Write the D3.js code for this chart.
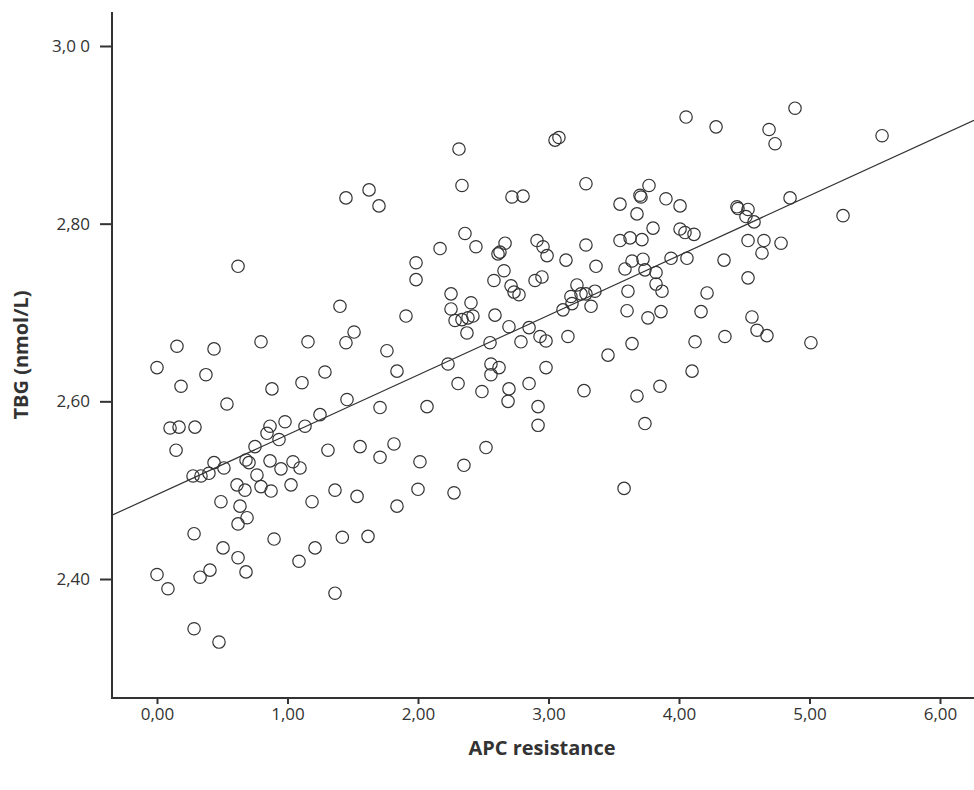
<!DOCTYPE html>
<html>
<head>
<meta charset="utf-8">
<script src="https://cdn.jsdelivr.net/npm/d3@7/dist/d3.min.js"></script>
<style>
  html, body { margin: 0; padding: 0; background: #fff; }
  svg { display: block; }
  text { font-family: "Open Sans", "Noto Sans", sans-serif; }
</style>
</head>
<body>
<svg id="chart" width="974" height="790"></svg>
<script>
// APC resistance (x) against TBG (y), one entry per subject
const apc = [
  0.621, 1.448, 1.625, 1.701, 2.314, 2.337, 2.720, 2.805, 2.360, 2.444,
  2.169, 2.667, 2.628, 2.613, 1.985, 1.985, 2.659, 2.582, 2.912, 2.958,
  2.897, 2.950, 2.713, 3.050, 3.080, 4.054, 4.284, 3.287, 3.770, 3.701,
  3.709, 3.900, 4.008, 3.548, 3.678, 4.444, 4.452, 3.801, 4.008, 4.046,
  4.115, 3.548, 3.625, 3.716, 2.989, 3.287, 3.134, 3.364, 3.640, 3.724,
  3.586, 3.739, 3.939, 4.061, 4.345, 3.824, 3.824, 3.218, 4.889, 4.690,
  4.736, 5.556, 4.851, 4.529, 4.513, 4.575, 5.257, 4.529, 4.651, 4.782,
  4.636, 4.529, 1.402, 0.153, 0.437, 0.797, 1.157, 1.448, 0.000, 0.375,
  0.184, 0.881, 1.111, 1.287, 1.456, 0.536, 1.249, 0.981, 0.866, 1.134,
  0.100, 0.169, 0.291, 0.843, 0.935, 0.146, 1.310, 0.751, 0.682, 0.705,
  0.866, 1.042, 1.096, 0.950, 0.437, 0.513, 0.398, 0.276, 0.337, 0.766,
  0.613, 0.674, 0.797, 0.874, 1.027, 1.364, 0.490, 0.636, 1.188, 0.690,
  0.621, 0.284, 0.897, 1.420, 0.506, 1.211, 0.621, 1.088, 0.000, 0.406,
  0.330, 0.682, 0.084, 1.364, 0.284, 0.475, 2.736, 2.774, 2.253, 2.406,
  2.253, 2.284, 2.337, 2.383, 2.421, 2.375, 2.590, 2.697, 2.851, 2.789,
  2.935, 2.981, 1.510, 1.762, 2.552, 1.908, 1.839, 2.230, 2.559, 2.621,
  2.559, 2.981, 2.307, 2.490, 2.697, 2.690, 2.851, 1.709, 2.069, 2.920,
  2.920, 1.556, 1.709, 1.816, 2.015, 2.352, 2.521, 3.172, 3.180, 3.249,
  3.287, 3.356, 3.326, 3.111, 3.609, 3.870, 4.215, 3.602, 3.762, 3.862,
  4.169, 3.149, 3.640, 4.123, 4.352, 3.456, 4.100, 3.272, 3.678, 3.854,
  3.739, 4.559, 4.598, 4.674, 5.011, 1.533, 1.839, 2.000, 2.276,
  1.617, 3.579
];
const tbg = [
  2.752, 2.829, 2.838, 2.820, 2.884, 2.843, 2.830, 2.831, 2.789, 2.774,
  2.772, 2.778, 2.768, 2.766, 2.756, 2.737, 2.747, 2.736, 2.781, 2.774,
  2.736, 2.740, 2.730, 2.894, 2.897, 2.920, 2.909, 2.845, 2.843, 2.832,
  2.830, 2.828, 2.820, 2.822, 2.811, 2.819, 2.817, 2.795, 2.794, 2.790,
  2.788, 2.781, 2.784, 2.782, 2.764, 2.776, 2.759, 2.752, 2.758, 2.760,
  2.749, 2.748, 2.761, 2.761, 2.759, 2.745, 2.732, 2.731, 2.930, 2.906,
  2.890, 2.899, 2.829, 2.816, 2.808, 2.802, 2.809, 2.781, 2.781, 2.778,
  2.767, 2.739, 2.707, 2.662, 2.659, 2.667, 2.667, 2.666, 2.638, 2.630,
  2.617, 2.614, 2.621, 2.633, 2.602, 2.597, 2.585, 2.577, 2.572, 2.572,
  2.570, 2.571, 2.571, 2.564, 2.557, 2.545, 2.545, 2.549, 2.534, 2.531,
  2.533, 2.532, 2.525, 2.524, 2.531, 2.525, 2.519, 2.516, 2.516, 2.517,
  2.506, 2.500, 2.504, 2.499, 2.506, 2.500, 2.487, 2.482, 2.487, 2.469,
  2.462, 2.451, 2.445, 2.447, 2.435, 2.435, 2.424, 2.420, 2.405, 2.410,
  2.402, 2.408, 2.389, 2.384, 2.344, 2.329, 2.723, 2.720, 2.721, 2.711,
  2.704, 2.691, 2.692, 2.694, 2.696, 2.677, 2.697, 2.684, 2.683, 2.667,
  2.673, 2.668, 2.678, 2.657, 2.666, 2.696, 2.634, 2.642, 2.642, 2.638,
  2.630, 2.638, 2.620, 2.611, 2.614, 2.600, 2.620, 2.593, 2.594, 2.594,
  2.573, 2.549, 2.537, 2.552, 2.532, 2.528, 2.548, 2.718, 2.710, 2.721,
  2.721, 2.724, 2.707, 2.703, 2.724, 2.724, 2.722, 2.702, 2.694, 2.701,
  2.701, 2.673, 2.665, 2.667, 2.673, 2.652, 2.634, 2.612, 2.606, 2.617,
  2.575, 2.695, 2.680, 2.674, 2.666, 2.493, 2.482, 2.501, 2.497,
  2.448, 2.502
];

// Linear fit line: TBG = fitIntercept + fitSlope * APC
const fitIntercept = 2.495;
const fitSlope = 0.0673;

const xTicks = [0, 1, 2, 3, 4, 5, 6];
const xTickLabels = ["0,00", "1,00", "2,00", "3,00", "4,00", "5,00", "6,00"];
const yTicks = [2.4, 2.6, 2.8, 3.0];
const yTickLabels = ["2,40", "2,60", "2,80", "3,0 0"];

const xTitle = "APC resistance";
const yTitle = "TBG (nmol/L)";

const svg = d3.select("#chart");
const ink = "#333";
const tickFont = "'Open Sans', 'Noto Sans', sans-serif";

// Plot frame in pixels
const frame = { left: 112, bottom: 698, top: 12, right: 974 };

const x = d3.scaleLinear().domain([0, 6]).range([157, 940]);
const y = d3.scaleLinear().domain([2.4, 3.0]).range([579, 46]);

// Fit line, clipped to the plotting frame
svg.append("defs").append("clipPath").attr("id", "plotclip")
  .append("rect").attr("x", frame.left).attr("y", frame.top)
  .attr("width", frame.right - frame.left).attr("height", frame.bottom - frame.top);

const xLo = x.invert(frame.left), xHi = x.invert(frame.right);
svg.append("line")
  .attr("clip-path", "url(#plotclip)")
  .attr("x1", x(xLo)).attr("y1", y(fitIntercept + fitSlope * xLo))
  .attr("x2", x(xHi)).attr("y2", y(fitIntercept + fitSlope * xHi))
  .attr("stroke", ink).attr("stroke-width", 1.2);

// Scatter points (open circles)
const points = apc.map((v, i) => ({ x: v, y: tbg[i] }));
svg.append("g").selectAll("circle")
  .data(points)
  .join("circle")
  .attr("cx", d => x(d.x))
  .attr("cy", d => y(d.y))
  .attr("r", 6.2)
  .attr("fill", "none")
  .attr("stroke", ink)
  .attr("stroke-width", 1.2);

// Y axis
const yAxis = d3.axisLeft(y)
  .tickValues(yTicks)
  .tickFormat((d, i) => yTickLabels[i])
  .tickSize(12)
  .tickPadding(10);
const gy = svg.append("g").attr("transform", `translate(${frame.left},0)`).call(yAxis);
gy.select(".domain").remove();
gy.selectAll(".tick line").attr("stroke", ink).attr("stroke-width", 2);
gy.selectAll(".tick text").attr("font-size", 17).attr("fill", "#333")
  .attr("font-family", tickFont);

// X axis
const xAxis = d3.axisBottom(x)
  .tickValues(xTicks)
  .tickFormat((d, i) => xTickLabels[i])
  .tickSize(6)
  .tickPadding(4);
const gx = svg.append("g").attr("transform", `translate(0,${frame.bottom})`).call(xAxis);
gx.select(".domain").remove();
gx.selectAll(".tick line").attr("stroke", ink).attr("stroke-width", 2);
gx.selectAll(".tick text").attr("font-size", 17).attr("fill", "#333")
  .attr("font-family", tickFont);

// Axis lines
svg.append("line").attr("x1", frame.left).attr("x2", frame.left)
  .attr("y1", frame.top).attr("y2", frame.bottom + 1)
  .attr("stroke", ink).attr("stroke-width", 2);
svg.append("line").attr("x1", frame.left - 1).attr("x2", frame.right)
  .attr("y1", frame.bottom).attr("y2", frame.bottom)
  .attr("stroke", ink).attr("stroke-width", 2);

// Axis titles
svg.append("text")
  .attr("x", 542).attr("y", 755)
  .attr("text-anchor", "middle")
  .attr("font-size", 20).attr("font-weight", "bold").attr("fill", "#333")
  .text(xTitle);
svg.append("text")
  .attr("transform", "translate(28,355) rotate(-90)")
  .attr("text-anchor", "middle")
  .attr("font-size", 20).attr("font-weight", "bold").attr("fill", "#333")
  .text(yTitle);
</script>
</body>
</html>
